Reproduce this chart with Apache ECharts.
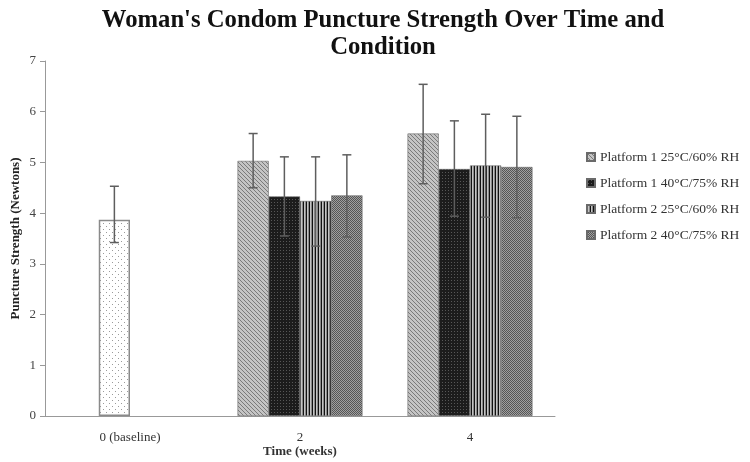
<!DOCTYPE html>
<html><head><meta charset="utf-8">
<script src="https://cdn.jsdelivr.net/npm/echarts@6/dist/echarts.min.js"></script>
<style>html,body{margin:0;padding:0;background:#fff}#c{width:750px;height:462px}</style>
</head><body><div id="c"></div>
<script>
// ---- data ----
const categories = ['0 (baseline)', '2', '4'];
const seriesNames = ['Platform 1 25°C/60% RH', 'Platform 1 40°C/75% RH', 'Platform 2 25°C/60% RH', 'Platform 2 40°C/75% RH'];
const yTicks = [0, 1, 2, 3, 4, 5, 6, 7];
const baselineValue = 3.87;
const baselineLow = 3.42;
const baselineHigh = 4.53;
const p1_25 = [null, 5.03, 5.57];
const p1_40 = [null, 4.33, 4.87];
const p2_25 = [null, 4.24, 4.94];
const p2_40 = [null, 4.35, 4.91];
const p1_25Low = [null, 4.50, 4.58];
const p1_25High = [null, 5.57, 6.54];
const p1_40Low = [null, 3.55, 3.94];
const p1_40High = [null, 5.11, 5.82];
const p2_25Low = [null, 3.35, 3.92];
const p2_25High = [null, 5.11, 5.95];
const p2_40Low = [null, 3.53, 3.91];
const p2_40High = [null, 5.15, 5.91];

// ---- patterns ----
function makePattern(w, h, fn) {
  const cv = document.createElement('canvas');
  cv.width = w; cv.height = h;
  const ctx = cv.getContext('2d');
  fn(ctx);
  return { image: cv, repeat: 'repeat' };
}
const patDiag = makePattern(4, 4, ctx => {
  ctx.fillStyle = '#c4c4c4'; ctx.fillRect(0, 0, 4, 4);
  ctx.fillStyle = '#7a7a7a';
  for (let i = 0; i < 4; i++) ctx.fillRect(i, i, 1, 1);
});
const patDark = makePattern(3, 3, ctx => {
  ctx.fillStyle = '#1c1c1c'; ctx.fillRect(0, 0, 3, 3);
  ctx.fillStyle = '#575757'; ctx.fillRect(1, 1, 1, 1);
});
const patVert = makePattern(3, 1, ctx => {
  ctx.fillStyle = '#111111'; ctx.fillRect(0, 0, 1, 1);
  ctx.fillStyle = '#c4c4c4'; ctx.fillRect(1, 0, 1, 1);
  ctx.fillStyle = '#8a8a8a'; ctx.fillRect(2, 0, 1, 1);
});
const patCheck = makePattern(2, 2, ctx => {
  ctx.fillStyle = '#a0a0a0'; ctx.fillRect(0, 0, 2, 2);
  ctx.fillStyle = '#555555'; ctx.fillRect(0, 0, 1, 1); ctx.fillRect(1, 1, 1, 1);
});
const patDots = makePattern(6, 6, ctx => {
  ctx.fillStyle = '#ffffff'; ctx.fillRect(0, 0, 6, 6);
  ctx.fillStyle = '#9a9a9a'; ctx.fillRect(1, 1, 1, 1); ctx.fillRect(4, 4, 1, 1);
});

const CAT_GAP = 0.265;
const FONT = '"Liberation Serif", "Times New Roman", serif';

const errData = [];
[[p1_25Low, p1_25High], [p1_40Low, p1_40High], [p2_25Low, p2_25High], [p2_40Low, p2_40High]].forEach((pair, s) => {
  pair[0].forEach((lo, c) => { if (lo != null) errData.push([c, s, lo, pair[1][c]]); });
});
errData.push([0, 1, baselineLow, baselineHigh]);

const p1_40WithBase = p1_40.slice();
p1_40WithBase[0] = { value: baselineValue, itemStyle: { color: patDots, borderColor: '#8a8a8a', borderWidth: 1.5 } };

const pats = [patDiag, patDark, patVert, patCheck];
const vals = [p1_25, p1_40WithBase, p2_25, p2_40];
const barSeries = seriesNames.map((n, i) => ({
  name: n, type: 'bar', data: vals[i], barGap: '0%', barCategoryGap: (CAT_GAP * 100) + '%',
  itemStyle: { color: pats[i], borderColor: '#6a6a6a', borderWidth: 0.6 },
  emphasis: { disabled: true }
}));

const chart = echarts.init(document.getElementById('c'));
chart.setOption({
  animation: false,
  backgroundColor: '#fff',
  graphic: [{
    type: 'text', x: 383, y: 7, silent: true,
    style: {
      text: "Woman's Condom Puncture Strength Over Time and\nCondition",
      fontFamily: FONT, fontSize: 24.7, fontWeight: 'bold', fill: '#111', lineHeight: 27,
      textAlign: 'center'
    }
  }],
  legend: {
    data: seriesNames, orient: 'vertical', left: 586, top: 150, itemWidth: 8, itemHeight: 8, itemGap: 12,
    icon: 'rect', padding: 0,
    textStyle: { fontFamily: FONT, fontSize: 13.5, color: '#333' }
  },
  grid: { left: 45, right: 195, top: 61, bottom: 46, outerBoundsMode: 'none', containLabel: false },
  xAxis: {
    type: 'category', data: categories,
    name: 'Time (weeks)', nameLocation: 'middle', nameGap: 29, nameMoveOverlap: false,
    nameTextStyle: { fontFamily: FONT, fontSize: 13, fontWeight: 'bold', color: '#333' },
    axisLine: { lineStyle: { color: '#999' } },
    axisTick: { length: 5, lineStyle: { color: '#999' } },
    axisLabel: { fontFamily: FONT, fontSize: 13, color: '#333', margin: 15 }
  },
  yAxis: {
    type: 'value', min: 0, max: 7, interval: 1,
    name: 'Puncture Strength (Newtons)', nameLocation: 'middle', nameGap: 23, nameMoveOverlap: false,
    nameTextStyle: { fontFamily: FONT, fontSize: 13, fontWeight: 'bold', color: '#222' },
    axisLine: { show: true, lineStyle: { color: '#999' } },
    axisTick: { show: true, length: 5, lineStyle: { color: '#999' } },
    splitLine: { show: false },
    axisLabel: { fontFamily: FONT, fontSize: 13, color: '#444', margin: 9,
      formatter: v => yTicks.includes(v) ? String(v) : '' }
  },
  series: barSeries.concat([{
    type: 'custom', data: errData, z: 10, silent: true,
    encode: { x: 0, y: [2, 3] },
    renderItem: (params, api) => {
      const c = api.value(0), s = api.value(1);
      const lo = api.coord([c, api.value(2)]);
      const hi = api.coord([c, api.value(3)]);
      const band = api.size([1, 0])[0];
      const bw = band * (1 - CAT_GAP) / 4;
      const x = lo[0] + (s - 1.5) * bw;
      const st = { stroke: '#5e5e5e', lineWidth: 1.5 };
      const cap = 4.5;
      return { type: 'group', children: [
        { type: 'line', shape: { x1: x, y1: lo[1], x2: x, y2: hi[1] }, style: st },
        { type: 'line', shape: { x1: x - cap, y1: hi[1], x2: x + cap, y2: hi[1] }, style: st },
        { type: 'line', shape: { x1: x - cap, y1: lo[1], x2: x + cap, y2: lo[1] }, style: st }
      ]};
    }
  }])
});
</script></body></html>
